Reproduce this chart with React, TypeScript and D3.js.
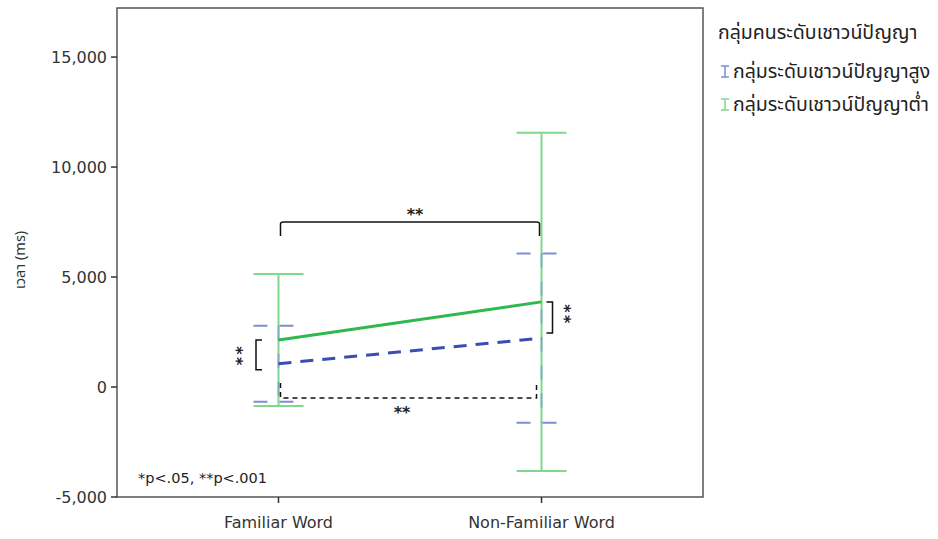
import React from "react";
import * as d3 from "d3";

const categories = ["Familiar Word", "Non-Familiar Word"];
const groups = ["กลุ่มระดับเชาวน์ปัญญาสูง", "กลุ่มระดับเชาวน์ปัญญาต่ำ"];
const highMean = [1060, 2220];
const highLower = [-670, -1620];
const highUpper = [2780, 6070];
const lowMean = [2140, 3870];
const lowLower = [-860, -3820];
const lowUpper = [5140, 11560];
const yTicks = [-5000, 0, 5000, 10000, 15000];

const W = 938, H = 539;
const L = 117, R = 703, T = 8, B = 497;
const latin = "'DejaVu Sans', Verdana, sans-serif";
const thai = "'Noto Sans Thai', 'Noto Sans', 'DejaVu Sans', Tahoma, sans-serif";

export default function App() {
  const x = d3.scalePoint<string>().domain(categories).range([L, R]).padding(0.614);
  const y = d3.scaleLinear().domain([-5000, 17230]).range([B, T]);
  const fmt = (v: number) => d3.format(",")(v).replace("\u2212", "-");
  const lowColor = "#2fb84c";
  const lowBar = "#7fd88c";
  const highColor = "#3a4db3";
  const highBar = "#7f8dd3";
  const line = d3.line<[number, number]>().x(d => d[0]).y(d => d[1]);
  const lowPts = categories.map((c, i) => [x(c)!, y(lowMean[i])] as [number, number]);
  const highPts = categories.map((c, i) => [x(c)!, y(highMean[i])] as [number, number]);
  const x0 = x(categories[0])!, x1 = x(categories[1])!;

  return (
    <svg width={W} height={H} style={{ position: "absolute", left: 0, top: 0 }} fontFamily={latin}>
      <rect x={0} y={0} width={W} height={H} fill="#fff" />
      {/* frame */}
      <rect x={L} y={T} width={R - L} height={B - T} fill="none" stroke="#555" strokeWidth={1.5} />
      {/* y axis ticks */}
      {yTicks.map(t => (
        <g key={t}>
          <line x1={L - 6} x2={L} y1={y(t)} y2={y(t)} stroke="#333" strokeWidth={1.5} />
          <text x={L - 10} y={y(t)} dy="0.38em" textAnchor="end" fontSize={16} fill="#333">{fmt(t)}</text>
        </g>
      ))}
      {categories.map(c => (
        <g key={c}>
          <line x1={x(c)} x2={x(c)} y1={B} y2={B + 6} stroke="#333" strokeWidth={1.5} />
          <text x={x(c)} y={B + 31} textAnchor="middle" fontSize={16} fill="#333">{c}</text>
        </g>
      ))}
      <text transform={`translate(25,260) rotate(-90)`} textAnchor="middle" fontSize={14.5} fill="#333" fontFamily={thai}>เวลา (ms)</text>

      {/* low group error bars */}
      {categories.map((c, i) => (
        <g key={"le" + c}>
          <line x1={x(c)} x2={x(c)} y1={y(lowLower[i])} y2={y(lowUpper[i])} stroke={lowBar} strokeWidth={2} />
          <line x1={x(c)! - 25} x2={x(c)! + 25} y1={y(lowLower[i])} y2={y(lowLower[i])} stroke={lowBar} strokeWidth={2} />
          <line x1={x(c)! - 25} x2={x(c)! + 25} y1={y(lowUpper[i])} y2={y(lowUpper[i])} stroke={lowBar} strokeWidth={2} />
        </g>
      ))}
      {/* high group error bars */}
      {categories.map((c, i) => (
        <g key={"he" + c}>
          <line x1={x(c)} x2={x(c)} y1={y(highUpper[i])} y2={y(highLower[i])} stroke={highBar} strokeWidth={2} strokeDasharray="14,14" opacity={0.6} />
          <line x1={x(c)! - 25} x2={x(c)! + 20} y1={y(highLower[i])} y2={y(highLower[i])} stroke={highBar} strokeWidth={2} strokeDasharray="14,12" />
          <line x1={x(c)! - 25} x2={x(c)! + 20} y1={y(highUpper[i])} y2={y(highUpper[i])} stroke={highBar} strokeWidth={2} strokeDasharray="14,12" />
        </g>
      ))}
      {/* mean lines */}
      <path d={line(lowPts)!} fill="none" stroke={lowColor} strokeWidth={3} />
      <path d={line(highPts)!} fill="none" stroke={highColor} strokeWidth={3} strokeDasharray="13,9" />

      {/* annotations */}
      <path d={`M${x0 + 2},236 V224 Q${x0 + 2},222 ${x0 + 5},222 H${x1 - 5} Q${x1 - 2},222 ${x1 - 2},224 V236`} fill="none" stroke="#111" strokeWidth={1.5} />
      <text x={(x0 + x1) / 2 + 5} y={220} textAnchor="middle" fontSize={16} fontWeight="bold" fill="#222">**</text>
      <path d={`M${x0 + 2},383 V398 H${x1 - 5} V383`} fill="none" stroke="#111" strokeWidth={1.5} strokeDasharray="5,4" />
      <text x={(x0 + x1) / 2 - 8} y={418} textAnchor="middle" fontSize={16} fontWeight="bold" fill="#222">**</text>
      <path d={`M262,${y(lowMean[0])} H256 V${y(highMean[0]) + 6} H262`} fill="none" stroke="#111" strokeWidth={1.5} />
      <text transform="translate(231,357) rotate(90)" textAnchor="middle" fontSize={16} fontWeight="bold" letterSpacing={2.5} fill="#222">**</text>
      <path d={`M${x1 + 5},302 H${x1 + 11} V333 H${x1 + 5}`} fill="none" stroke="#111" strokeWidth={1.5} />
      <text transform="translate(559,315) rotate(90)" textAnchor="middle" fontSize={16} fontWeight="bold" letterSpacing={2.5} fill="#222">**</text>
      <text x={138} y={483} fontSize={14.5} fill="#222">*p&lt;.05, **p&lt;.001</text>

      {/* legend */}
      <text x={718} y={39} fontSize={19.5} fill="#222" fontFamily={thai}>กลุ่มคนระดับเชาวน์ปัญญา</text>
      {groups.map((g, i) => {
        const cy = 72 + i * 33;
        const col = i === 0 ? highBar : lowBar;
        return (
          <g key={g}>
            <line x1={721} x2={729} y1={cy - 6} y2={cy - 6} stroke={col} strokeWidth={1.5} />
            <line x1={725} x2={725} y1={cy - 6} y2={cy + 5} stroke={col} strokeWidth={1.5} />
            <line x1={721} x2={729} y1={cy + 5} y2={cy + 5} stroke={col} strokeWidth={1.5} />
            <text x={733} y={cy + 6} fontSize={19.5} fill="#222" fontFamily={thai}>{g}</text>
          </g>
        );
      })}
    </svg>
  );
}
